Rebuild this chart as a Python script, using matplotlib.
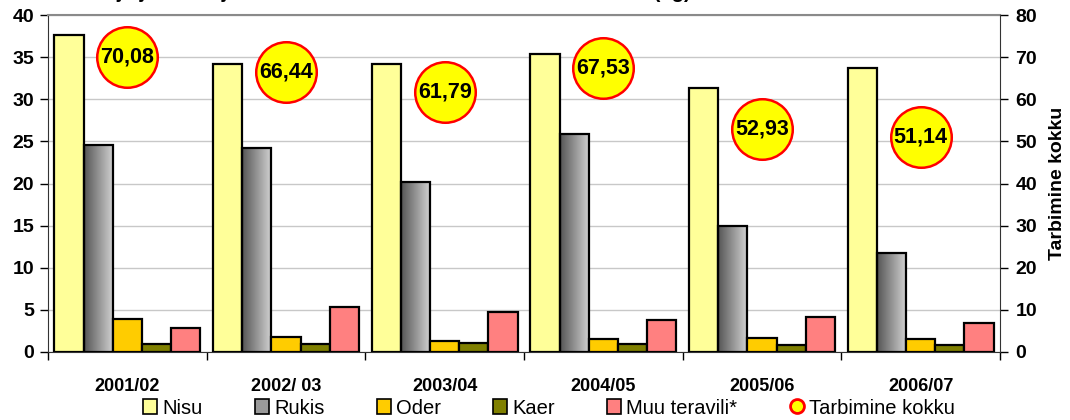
import numpy as np
import matplotlib
matplotlib.use("Agg")
import matplotlib.pyplot as plt
from matplotlib.colors import LinearSegmentedColormap
from matplotlib.lines import Line2D
from matplotlib.patches import Patch
from matplotlib import font_manager

years = ["2001/02", "2002/ 03", "2003/04", "2004/05", "2005/06", "2006/07"]
nisu = [37.6, 34.2, 34.2, 35.4, 31.3, 33.7]
rukis = [24.6, 24.2, 20.2, 25.9, 14.9, 11.7]
oder = [3.9, 1.8, 1.3, 1.6, 1.7, 1.6]
kaer = [0.9, 0.9, 1.1, 0.9, 0.8, 0.8]
muu = [2.9, 5.3, 4.8, 3.8, 4.2, 3.4]
kokku = [70.08, 66.44, 61.79, 67.53, 52.93, 51.14]
kokku_labels = ["70,08", "66,44", "61,79", "67,53", "52,93", "51,14"]
series_names = ["Nisu", "Rukis", "Oder", "Kaer", "Muu teravili*"]
total_name = "Tarbimine kokku"
title = "Toiduteravilja ja teraviljatoodete tarbimine ühe elaniku kohta aastal (kg)"

names = {f.name for f in font_manager.fontManager.ttflist}
narrow = "Liberation Sans Narrow" if "Liberation Sans Narrow" in names else "Liberation Sans"
plt.rcParams['font.family'] = ['Liberation Sans', 'DejaVu Sans']

fig = plt.figure(figsize=(10.7, 4.2), dpi=100)
ax = fig.add_axes([48/1070, 1 - 352/420, (1000-48)/1070, (352-15)/420])
ax2 = ax.twinx()

x = np.arange(len(years))
w = 0.184
colors = ["#FFFF99", "none", "#FFCC00", "#808000", "#FF8080"]
data = [nisu, rukis, oder, kaer, muu]
grad_cmap = LinearSegmentedColormap.from_list("g", ["#555555", "#d4d4d4"])
for i, (vals, c) in enumerate(zip(data, colors)):
    bars = ax.bar(x + (i - 2) * w, vals, width=w, color=c, edgecolor="black",
                  linewidth=1.6, zorder=3)
    if i == 1:
        for r in bars:
            x0, y0 = r.get_x(), r.get_y()
            ww, hh = r.get_width(), r.get_height()
            grad = np.linspace(0, 1, 256).reshape(1, -1)
            ax.imshow(grad, cmap=grad_cmap, extent=[x0, x0 + ww, y0, y0 + hh],
                      aspect="auto", zorder=2.9)

ax.set_xlim(-0.5, len(years) - 0.5)
ax.set_ylim(0, 40)
ax.set_yticks(range(0, 41, 5))
ax.set_xticks(np.arange(-0.5, len(years), 1.0))
ax.set_xticklabels([])
ax.set_xticks(x, minor=True)
ax.set_xticklabels(years, minor=True, fontsize=13, fontweight="bold", family=narrow)
ax.tick_params(axis="x", which="minor", length=0, pad=19)
ax.tick_params(axis="x", which="major", length=6, width=1, color="black")
ax.tick_params(axis="y", length=6, width=1, labelsize=14, pad=4)
for lab in ax.get_yticklabels():
    lab.set_fontweight("bold")
ax.grid(axis="y", color="#c8c8c8", linewidth=1.0, zorder=0)
ax.set_axisbelow(True)
ax.spines["top"].set_color("#8a8a8a")
ax.spines["top"].set_linewidth(1.5)
ax.spines["left"].set_color("#333333")
ax.spines["bottom"].set_color("#333333")
ax.spines["right"].set_visible(False)

ax2.set_ylim(0, 80)
ax2.set_yticks(range(0, 81, 10))
ax2.tick_params(axis="y", length=6, width=1, labelsize=14, pad=5)
for lab in ax2.get_yticklabels():
    lab.set_fontweight("bold")
ax2.spines["right"].set_color("#333333")
ax2.spines["top"].set_visible(False)
ax2.spines["left"].set_visible(False)
ax2.spines["bottom"].set_visible(False)
ax2.set_ylabel(total_name, fontsize=14, fontweight="bold", labelpad=9)

ax2.scatter(x, kokku, s=1900, facecolor="#FFFF00", edgecolor="#FF0000",
            linewidth=1.8, zorder=5)
for xi, yi, lab in zip(x, kokku, kokku_labels):
    ax2.text(xi, yi, lab, ha="center", va="center", fontsize=15.5,
             fontweight="bold", zorder=6)

fig.text(0.004, 1 + 2/420, title, ha="left", va="baseline", fontsize=14.6,
         fontweight="bold")

handles = [Patch(facecolor=c if c != "none" else "#9a9a9a", edgecolor="black",
                 linewidth=1.2) for c in colors]
handles.append(Line2D([], [], marker="o", linestyle="none", markersize=10,
                      markerfacecolor="#FFFF00", markeredgecolor="#FF0000",
                      markeredgewidth=2))
fig.legend(handles, series_names + [total_name], loc="center",
           bbox_to_anchor=(0.513, 1 - 408/420), ncol=6, frameon=False,
           prop={"family": "Liberation Sans", "size": 14.5}, handlelength=0.7,
           handleheight=0.7, handletextpad=0.25, columnspacing=2.6,
           borderaxespad=0)

fig.savefig("out.png", dpi=100)
